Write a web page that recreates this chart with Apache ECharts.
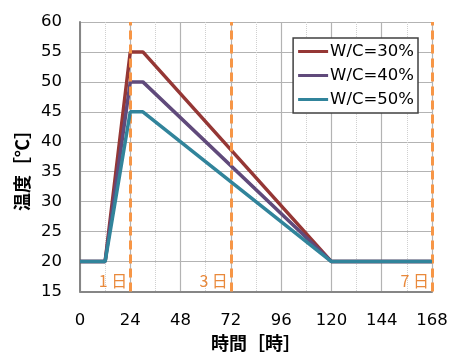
<!DOCTYPE html>
<html><head><meta charset="utf-8">
<script src="https://cdn.jsdelivr.net/npm/echarts@6/dist/echarts.min.js"></script>
<style>html,body{margin:0;padding:0;background:#fff}#c{width:454px;height:352px}</style>
</head><body><div id="c"></div>
<script>
var hours = [0, 12, 24, 30, 120, 168];
var wc30 = [20, 20, 55, 55, 20, 20];
var wc40 = [20, 20, 50, 50, 20, 20];
var wc50 = [20, 20, 45, 45, 20, 20];
var seriesNames = ['W/C=30%', 'W/C=40%', 'W/C=50%'];
var dayHours = [24, 72, 168];
var dayLabels = ['1 日', '3 日', '7 日'];
var dayLabelY = 16.8;

var colors = ['#953735', '#604A7B', '#31849B'];
var orange = '#F79646';
var jfont = '"Noto Sans CJK JP", "Noto Sans", sans-serif';
var nfont = '"DejaVu Sans", sans-serif';

function pairs(ys){ return hours.map(function(h,i){ return [h, ys[i]]; }); }

var chart = echarts.init(document.getElementById('c'), null, {renderer:'canvas'});
var lineSeries = [wc30, wc40, wc50].map(function(d, i){
  return {
    name: seriesNames[i], type: 'line', data: pairs(d), showSymbol: false,
    lineStyle: {color: colors[i], width: 3.5}, itemStyle: {color: colors[i]},
    z: 3 + i, animation: false
  };
});
var markSeries = {
  type: 'scatter', data: dayHours.map(function(h,i){ return {value:[h, dayLabelY], label:{formatter: dayLabels[i]}}; }),
  symbolSize: 0, silent: true, animation: false,
  label: {show: true, position: 'left', distance: 3, color: '#E46C0A', fontSize: 16, fontFamily: jfont},
  markLine: {
    silent: true, symbol: ['none','none'], animation: false,
    lineStyle: {color: orange, width: 3, type: [9, 5]},
    label: {show: false},
    data: dayHours.map(function(h){ return {xAxis: h}; })
  },
  z: 2
};

chart.setOption({
  animation: false,
  grid: {left: 80, right: 22, top: 22, bottom: 60.5, outerBoundsMode: 'none', containLabel: false},
  legend: {
    data: seriesNames, orient: 'vertical', right: 36, top: 38,
    backgroundColor: '#fff', borderColor: '#404040', borderWidth: 1.5,
    padding: [5, 4, 5, 5], itemGap: 7, itemWidth: 30, itemHeight: 12,
    icon: 'path://M0,5 L30,5 L30,8 L0,8 Z',
    textStyle: {fontSize: 16.5, fontFamily: nfont, color: '#000', padding: [0,0,0,-3]}
  },
  graphic: [{
    type: 'text', x: 22, y: 166, rotation: Math.PI / 2,
    style: {text: '温度［℃］', fontSize: 18, fontWeight: 'bold', fontFamily: jfont, fill: '#000',
      align: 'center', verticalAlign: 'middle'}
  }],
  xAxis: {
    type: 'value', min: 0, max: 168, interval: 24,
    name: '時間［時］', nameLocation: 'middle', nameGap: 31,
    nameTextStyle: {fontSize: 18, fontWeight: 'bold', fontFamily: jfont, color: '#000'},
    axisLine: {show: true, lineStyle: {color: '#868686', width: 2}},
    axisTick: {show: false},
    axisLabel: {fontSize: 16.5, fontFamily: nfont, color: '#000', margin: 21},
    splitLine: {show: true, lineStyle: {color: '#B3B3B3', width: 1.2}},
    minorTick: {show: false, splitNumber: 2},
    minorSplitLine: {show: true, lineStyle: {color: '#D0D0D0', type: 'dotted', width: 1}}
  },
  yAxis: {
    type: 'value', min: 15, max: 60, interval: 5,
    axisLine: {show: true, lineStyle: {color: '#868686', width: 2}},
    axisTick: {show: false},
    axisLabel: {fontSize: 16.5, fontFamily: nfont, color: '#000', margin: 18},
    splitLine: {show: true, lineStyle: {color: '#B3B3B3', width: 1.2}}
  },
  series: [markSeries].concat(lineSeries)
});
</script></body></html>
